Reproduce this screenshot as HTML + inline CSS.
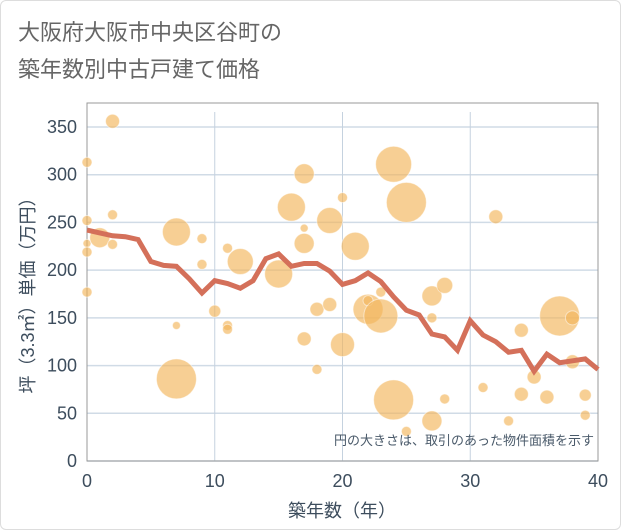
<!DOCTYPE html>
<html><head><meta charset="utf-8"><style>
body{margin:0;background:#fff;font-family:"Liberation Sans","Noto Sans CJK JP",sans-serif;}
#wrap{position:relative;width:619px;height:528px;border:1px solid #ddd;border-radius:6px;background:#fff;overflow:hidden}
</style></head><body>
<div id="wrap">
<svg id="chart" width="621" height="530"></svg>
</div>
<script>
const lineYears=[0,1,2,3,4,5,6,7,8,9,10,11,12,13,14,15,16,17,18,19,20,21,22,23,24,25,26,27,28,29,30,31,32,33,34,35,36,37,38,39,40];
const lineValues=[242,239,236,235,232,209,205,204,191,176,189,186,181,189,212,217,204,207,207,199,185,189,197,188,172,158,153,133,130,116,147,132,125,114,116,94,112,103,105,107,96];
const bubbleYears=[0,0,0,0,0,1,2,2,2,7,7,7,9,9,10,11,11,11,12,15,16,17,17,17,17,18,18,19,19,20,20,21,22,22,23,23,24,24,25,25,27,27,27,28,28,31,32,33,34,34,35,36,37,38,38,39,39];
const bubbleValues=[313,252,228,219,177,234,356,258,227,240,142,86,233,206,157,223,142,138,209,196,266,301,244,228,128,159,96,252,164,276,122,225,159,168,152,177,311,64,271,31,173,150,42,184,65,77,256,42,137,70,88,67,152,150,104,69,48];
const bubbleSizes=[5,5,4,5,5,10,7,5,5,14,4,20,5,5,6,5,5,5,13,14,14,10,4,10,7,7,5,13,7,5,12,14,15,5,17,5,18,20,20,5,10,5,10,8,5,5,7,5,7,7,7,7,20,7,7,6,5];
const xTicks=[0,10,20,30,40];
const yTicks=[0,50,100,150,200,250,300,350];
const NS="http://www.w3.org/2000/svg";
const svg=document.getElementById('chart');
const X0=86,X1=597,Y0=460,Y1=126,YMAX=350,XMAX=40;
const xs=v=>X0+(X1-X0)*v/XMAX;
const ys=v=>Y0-(Y0-Y1)*v/YMAX;
function mk(t,a){const e=document.createElementNS(NS,t);for(const k in a)e.setAttribute(k,a[k]);svg.appendChild(e);return e;}
function txt(s,a){const e=mk('text',a);e.textContent=s;return e;}
let t1=txt('大阪府大阪市中央区谷町の',{x:17,y:39,'font-size':22,fill:'#666'});


let t2=txt('築年数別中古戸建て価格',{x:17,y:76,'font-size':22,fill:'#666'});


for(const v of yTicks){
 const g=mk('line',{x1:X0,x2:X1,y1:ys(v),y2:ys(v),stroke:'#d0dbe6','stroke-width':1.5});
 
 
 const l=txt(v,{x:76,y:ys(v)+6,'font-size':18,fill:'#3d4d5d','text-anchor':'end'});
 
 
}
for(const v of xTicks){
 const g=mk('line',{x1:xs(v),x2:xs(v),y1:Y1-15,y2:Y0,stroke:'#c5d2df','stroke-width':1});
 
 
 const l=txt(v,{x:xs(v),y:486,'font-size':18,fill:'#3d4d5d','text-anchor':'middle'});
 
 
}
const fr=mk('rect',{x:X0,y:Y1-24,width:X1-X0,height:Y0-Y1+24,fill:'none',stroke:'#999','stroke-width':1});


for(let i=0;i<bubbleYears.length;i++){
 const c=mk('circle',{cx:xs(bubbleYears[i]),cy:ys(bubbleValues[i]),r:bubbleSizes[i],fill:'rgba(242,182,90,0.65)',stroke:'rgba(255,255,255,0.5)','stroke-width':1});
 
 
}
const pts=lineYears.map((y,i)=>xs(y)+','+ys(lineValues[i])).join(' ');
const pl=mk('polyline',{points:pts,fill:'none',stroke:'#d4705a','stroke-width':5,'stroke-linejoin':'miter'});


const note=txt('円の大きさは、取引のあった物件面積を示す',{x:593,y:444,'font-size':13,fill:'#4a5a6a','text-anchor':'end'});


const xt=txt('築年数（年）',{x:341,y:516,'font-size':18,fill:'#3d4d5d','text-anchor':'middle'});


const yt=txt('坪（3.3㎡）単価（万円）',{x:0,y:0,'font-size':18,fill:'#3d4d5d','text-anchor':'middle',transform:'translate(33,290) rotate(-90)'});


</script>
</body></html>
